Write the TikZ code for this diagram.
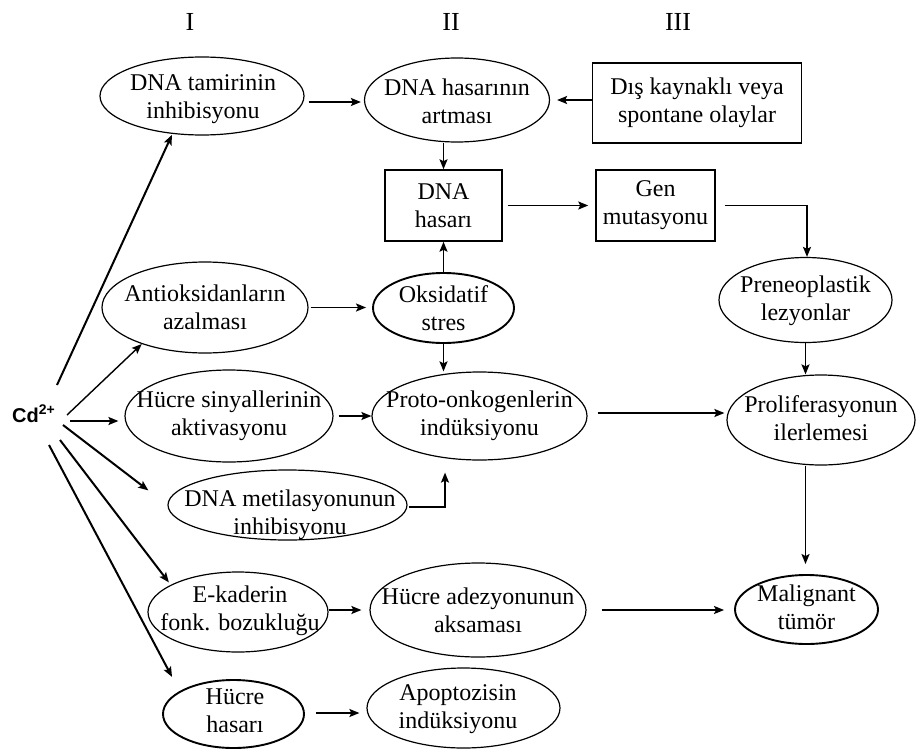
\documentclass[tikz,border=0pt]{standalone}
\usepackage{fontspec}
\setmainfont{Liberation Serif}
\newfontfamily\cdfont{Liberation Sans}
\usetikzlibrary{shapes.geometric,arrows.meta,calc}
\begin{document}
\begin{tikzpicture}[x=1pt,y=-1pt,
  ell/.style={draw,ellipse,inner sep=0pt,line width=1.2pt},
  bell/.style={ell,line width=1.9pt},
  box/.style={draw,rectangle,inner sep=0pt,line width=1.5pt},
  txt/.style={align=center,inner sep=0pt,font=\fontsize{24}{28}\selectfont},
  arr/.style={line width=1.7pt,-{Stealth[length=10pt,width=8pt,inset=2pt]}},
  carr/.style={arr,line width=2pt},
  rom/.style={font=\fontsize{26}{30}\selectfont,inner sep=0pt}
]
\useasboundingbox[fill=white] (0,0) rectangle (917,749);

% column headings
\node[rom] (r1) at (190,22) {I};
\node[rom] (r2) at (451,22) {II};
\node[rom] (r3) at (678,22) {III};

% nodes
\node[ell,minimum width=204pt,minimum height=78pt] (dtam) at (202,96) {};
\node[txt] (dtamT) at (203,99) {DNA tamirinin\\inhibisyonu};

\node[ell,minimum width=185pt,minimum height=84pt] (dhas) at (457,100) {};
\node[txt] (dhasT) at (457,101) {DNA hasarının\\artması};

\node[box,txt,minimum width=209pt,minimum height=80pt] (dis) at (697,103) {Dış kaynaklı veya\\spontane olaylar};

\node[box,txt,minimum width=117pt,minimum height=71pt] (dnah) at (443.5,205.5) {DNA\\hasarı};
\node[box,txt,minimum width=119pt,minimum height=71pt] (gen) at (655.5,205.5) {Gen\\mutasyonu};

\node[ell,minimum width=173pt,minimum height=85pt] (prene) at (805.5,300) {};
\node[txt] (preneT) at (805.5,301) {Preneoplastik\\lezyonlar};

\node[ell,minimum width=206pt,minimum height=91pt] (antiok) at (205,307.5) {};
\node[txt] (antiokT) at (205,307) {Antioksidanların\\azalması};

\node[bell,minimum width=141pt,minimum height=70pt] (oks) at (443.5,308) {};
\node[txt] (oksT) at (443.5,308) {Oksidatif\\stres};

\node[ell,minimum width=208pt,minimum height=92pt] (hsin) at (229,416) {};
\node[txt] (hsinT) at (229,416) {Hücre sinyallerinin\\aktivasyonu};

\node[ell,minimum width=215pt,minimum height=88pt] (proto) at (479.5,416) {};
\node[txt] (protoT) at (479.5,416) {Proto-onkogenlerin\\indüksiyonu};

\node[ell,minimum width=188pt,minimum height=90pt] (prolif) at (821,420) {};
\node[txt] (prolifT) at (821,418) {Proliferasyonun\\ilerlemesi};

\node[ell,minimum width=239pt,minimum height=70pt] (dmet) at (287.5,505) {};
\node[txt] (dmetT) at (290,515) {DNA metilasyonunun\\inhibisyonu};

\node[ell,minimum width=180pt,minimum height=80pt] (ekad) at (238,612) {};
\node[txt] (ekadT) at (240,611) {E-kaderin\\fonk. bozukluğu};

\node[ell,minimum width=216pt,minimum height=94pt] (hadez) at (478,610) {};
\node[txt] (hadezT) at (478,610) {Hücre adezyonunun\\aksaması};

\node[bell,minimum width=143pt,minimum height=69pt] (malig) at (806.5,609.5) {};
\node[txt] (maligT) at (806.5,607) {Malignant\\tümör};

\node[bell,minimum width=141pt,minimum height=68pt] (hhas) at (233.5,714) {};
\node[txt] (hhasT) at (235,711) {Hücre\\hasarı};

\node[ell,minimum width=193pt,minimum height=80pt] (apop) at (463.5,708) {};
\node[txt] (apopT) at (458,709) {Apoptozisin\\indüksiyonu};

% Cd
\node[inner sep=0pt,anchor=base west,font=\cdfont\bfseries\fontsize{20}{24}\selectfont] (cd) at (12,422) {Cd\textsuperscript{2+}};

\coordinate (s1) at (57,385);
\coordinate (s2) at (67,415);
\coordinate (s3) at (70,421);
\coordinate (s4) at (63,425);
\coordinate (s5) at (60,440);
\coordinate (s6) at (49,445);

\draw[carr,shorten >=1pt] (s1) -- (dtam.-128);
\draw[arr,line width=1.4pt] (s2) -- (antiok.-150);
\draw[carr,shorten >=6pt] (s3) -- (s3 -| hsin.west);
\draw[carr,shorten >=24pt] (s4) -- (dmet.west);
\draw[carr,shorten >=3pt] (s5) -- (ekad.158);
\draw[carr,shorten >=16pt] (s6) -- (hhas.157);

% connectors
\draw[arr,shorten <=4pt,shorten >=3pt] ([yshift=-6pt]dtam.east) -- ([yshift=-6pt]dtam.east -| dhas.west);
\draw[arr,shorten >=7pt] ([yshift=3pt]dis.west) -- ([yshift=3pt]dis.west -| dhas.east);
\draw[arr] (dnah.north |- dhas.south) -- (dnah.north);
\draw[arr,shorten <=5pt,shorten >=7pt] (dnah.east) -- (gen.west);
\draw[arr,shorten <=9pt] (gen.east) -| ([xshift=1.5pt]prene.north);
\draw[arr] (oks.north) -- (dnah.south);
\draw[arr] (oks.south) -- (oks.south |- proto.north);
\draw[arr,shorten <=2pt,shorten >=6pt] (antiok.east) -- (antiok.east -| oks.west);
\draw[arr,shorten <=5pt] (hsin.east) -- (proto.west);
\draw[arr,shorten <=10pt,shorten >=2pt] ([yshift=3pt]proto.east) -- ([yshift=3pt]proto.east -| prolif.west);
\draw[arr,shorten <=1pt,shorten >=12pt] ([yshift=-2pt]dmet.east) -| ([xshift=-34.5pt]proto.south);
\draw[arr] (prene.south) -- (prene.south |- prolif.north);
\draw[arr,shorten >=10pt] (prene.south |- prolif.south) -- (prene.south |- malig.north);
\draw[arr,shorten >=8pt] ([yshift=2pt]ekad.east) -- ([yshift=2pt]ekad.east -| hadez.west);
\draw[arr,shorten <=15pt,shorten >=10pt] (hadez.east) -- (hadez.east -| malig.west);
\draw[arr,shorten <=11pt,shorten >=7pt] ([yshift=1pt]hhas.east) -- ([yshift=1pt]hhas.east -| apop.west);
\end{tikzpicture}
\end{document}
